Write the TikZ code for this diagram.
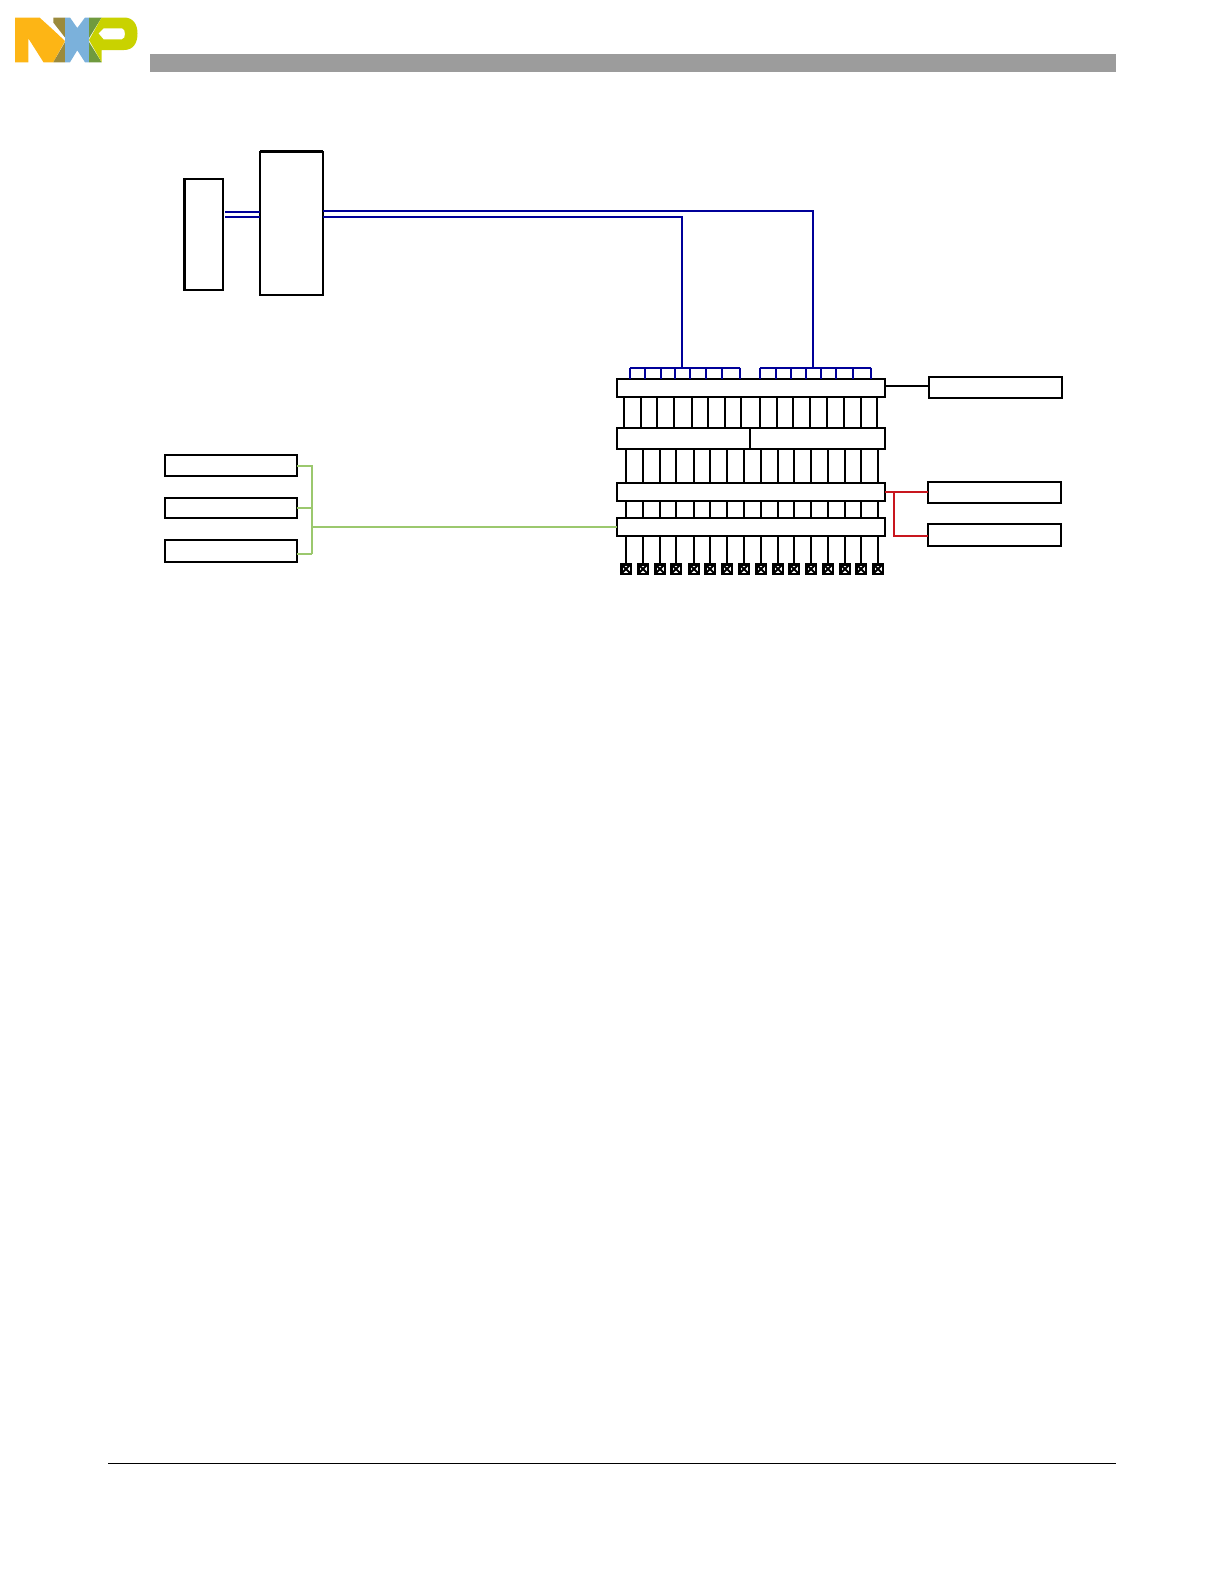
\documentclass[tikz,border=0pt]{standalone}
\definecolor{nxpyellow}{HTML}{FDB515}
\definecolor{nxpolive}{HTML}{9B8A3C}
\definecolor{nxpblue}{HTML}{7BB1DB}
\definecolor{nxpgreen}{HTML}{6F9A3E}
\definecolor{nxplime}{HTML}{C9D200}
\definecolor{busblue}{HTML}{000099}
\definecolor{busgreen}{HTML}{9BC86E}
\definecolor{busred}{HTML}{C8161E}
\definecolor{headgrey}{HTML}{9C9C9C}
\tikzset{
  x=0.5bp,y=-0.5bp,
  box/.style={draw=black,fill=white,line width=1.1bp,inner sep=0pt,outer sep=0pt},
  wire/.style={draw=black,line width=1.15bp},
  bluewire/.style={draw=busblue,line width=1.1bp},
  greenwire/.style={draw=busgreen,line width=0.9bp},
  redwire/.style={draw=busred,line width=1.15bp},
  pad/.style={draw=black,line width=1.2bp,fill=white,inner sep=0pt,outer sep=0pt,
    minimum width=4.7bp,minimum height=4.7bp,
    path picture={\draw[black,line width=0.9bp]
      (path picture bounding box.south west)--(path picture bounding box.north east)
      (path picture bounding box.north west)--(path picture bounding box.south east);}},
}
\newcommand{\bx}[5]{\node[box,minimum width={(#4-#2)*0.5bp},minimum height={(#5-#3)*0.5bp}]
  (#1) at ({(#2+#4)/2},{(#3+#5)/2}) {};}
\begin{document}
\begin{tikzpicture}
\useasboundingbox (0,0) rectangle (1224,1584);
% logo
\fill[nxpyellow] (15,17.5)--(39.5,17.5)--(53.3,30)--(65,41)--(53.3,62.3)--(43.5,62.3)--(28.3,38.3)--(28.3,62.3)--(15,62.3)--cycle;
\fill[nxpolive] (53.3,17.5)--(65,17.5)--(65,37.5)--(53.3,22.5)--cycle;
\fill[nxpolive] (53.3,62.3)--(65,42)--(65,62.3)--cycle;
\fill[nxpblue] (65,17.5)--(70,17.5)--(77.3,28)--(85,17.5)--(89,17.5)--(89,62.3)--(85,62.3)--(77.3,50.3)--(70,62.3)--(65,62.3)--cycle;
\fill[nxpgreen] (89,17.5)--(101.7,17.5)--(89,38)--cycle;
\fill[nxpgreen] (89,42)--(101.7,62.3)--(89,62.3)--cycle;
\fill[nxplime,even odd rule] (89,40)--(101.7,17.5)--(124,17.5)
  .. controls (133,17.5) and (137.5,24) .. (137.5,33.5)
  .. controls (137.5,43.5) and (133,50) .. (124,50)--(101.7,50)--(101.7,62.3)--cycle
  (98.5,33.5)--(103.5,28.3)--(122,28.3) .. controls (126,28.3) and (126,39.3) .. (122,39.3)--(103.5,39.3)--cycle;
% header and footer
\fill[headgrey] (150,54) rectangle (1116,71.7);
\draw[black,line width=0.5bp] (108,1463.2)--(1116,1463.2);
% CPU-side boxes
\bx{ca}{184}{179}{223}{290}
\bx{cb}{260}{151.7}{323}{294.7}
\draw[line width=1.6bp] ([xshift=0.4bp]ca.north west)--([xshift=0.4bp]ca.south west);
\draw[line width=1.6bp] (cb.north west)--(cb.north east);
% left small boxes
\bx{la}{165}{455}{297}{476}
\bx{lb}{165}{498}{297}{518.3}
\bx{lc}{165}{540}{297}{561.7}
% right small boxes
\bx{ra}{929}{377}{1062}{398}
\bx{rb}{928}{482}{1061}{503}
\bx{rc}{928}{524}{1061}{546}
% vertical wires (drawn before the bars)
\foreach \xa/\xb in {624/626,641/643,657/660,674/676,692/694,708/710,725/727,741/744,
  760/761,777/778,793/794,810/811,827/828,844/845,861/861,877/878}{
  \coordinate (ua) at (\xa,396.7);
  \coordinate (ub) at (\xa,430);
  \coordinate (va) at (\xb,448);
  \coordinate (vb) at (\xb,569);
  \draw[wire] (ua)--(ub);
  \draw[wire] (va)--(vb);
  \node[pad] at (\xb,569) {};
}
% bars
\bx{ba}{616.7}{379}{885}{396.7}
\bx{bbl}{616.7}{428}{750}{448.7}
\bx{bbr}{750}{428}{885}{448.7}
\bx{bc}{616.7}{483}{885}{500.7}
\bx{bd}{616.7}{518}{885}{536}
% blue rails
\coordinate (rl1) at (630,367.7);
\coordinate (rl2) at (740,367.7);
\coordinate (rr1) at (760,367.7);
\coordinate (rr2) at (871,367.7);
\draw[bluewire] (rl1)--(rl2);
\draw[bluewire] (rr1)--(rr2);
\foreach \x in {630,645,661,675,690,706,722,740,760,775.7,791,806,821,836,853.3,871}
  \draw[bluewire] (\x,367.7)--(\x,379);
% blue buses
\draw[bluewire] (ca.east |- 0,212)++(2,0)--(cb.west |- 0,212);
\draw[bluewire] (ca.east |- 0,217)++(2,0)--(cb.west |- 0,217);
\draw[bluewire] (cb.east |- 0,211)-|(813,367.7);
\draw[bluewire] (cb.east |- 0,217)-|(682,367.7);
% black link
\draw[wire] (ba.east |- 0,385.7)--(ra.west |- 0,385.7);
% red links
\coordinate (redj) at (894,491.7);
\draw[redwire] (bc.east |- redj)--(rb.west |- redj);
\draw[redwire] (redj)|-(rc.west |- 0,536);
% green links
\coordinate (gt) at (312,465.7);
\coordinate (gb) at (312,553.7);
\draw[greenwire] (la.east |- gt)-|(gb);
\draw[greenwire] (lb.east |- 0,508)--(312,508);
\draw[greenwire] (lc.east |- gb)--(gb);
\draw[greenwire] (312,527)--(bd.west |- 0,527);
\end{tikzpicture}
\end{document}
